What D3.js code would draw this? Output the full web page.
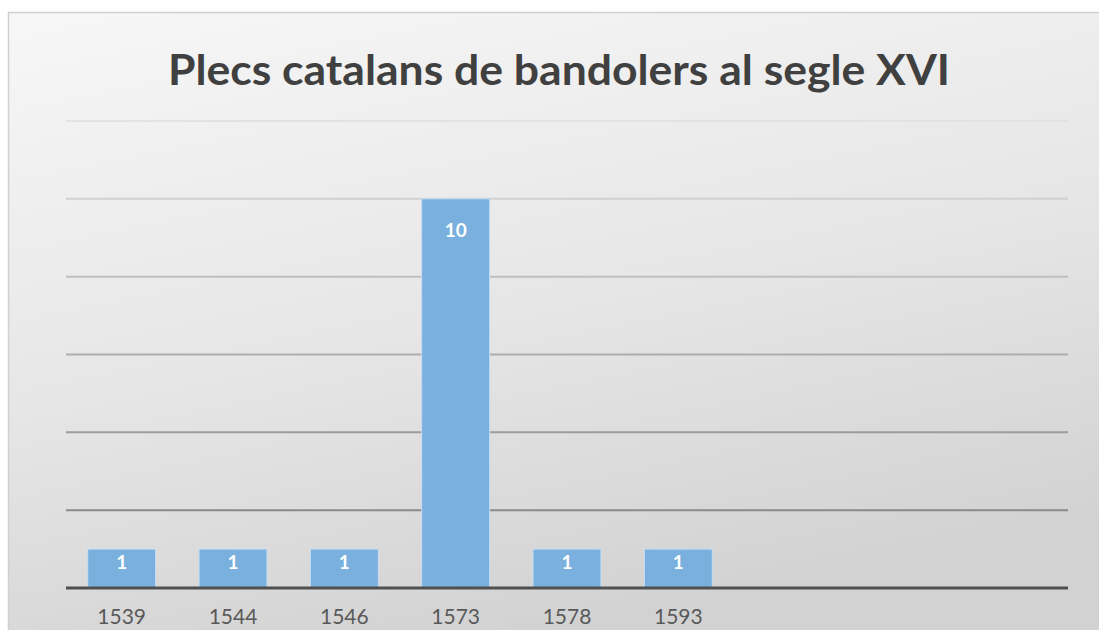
<!DOCTYPE html>
<html>
<head>
<meta charset="utf-8">
<script src="https://cdn.jsdelivr.net/npm/d3@7"></script>
<style>
  html, body { margin: 0; padding: 0; background: #ffffff; }
  svg { display: block; }
</style>
</head>
<body>
<svg width="1099" height="630"></svg>
<script>
// chart data
var title = "Plecs catalans de bandolers al segle XVI";
var years = ["1539", "1544", "1546", "1573", "1578", "1593", "", " ", "  "];
var counts = [1, 1, 1, 10, 1, 1, null, null, null];
var gridTicks = [2, 4, 6, 8, 10, 12];

var svg = d3.select("svg"),
    width = +svg.attr("width"),
    height = +svg.attr("height");

var margin = {left: 66, right: 31, top: 121, bottom: 42};
var plotBottom = 588;

// background gradient like the excel style
var defs = svg.append("defs");
var bg = defs.append("linearGradient")
    .attr("id", "bg")
    .attr("x1", 0).attr("y1", 0)
    .attr("x2", 0.35).attr("y2", 1);
bg.append("stop").attr("offset", "0%").attr("stop-color", "#f7f7f7");
bg.append("stop").attr("offset", "55%").attr("stop-color", "#e6e6e6");
bg.append("stop").attr("offset", "100%").attr("stop-color", "#d2d2d2");

svg.append("rect")
    .attr("x", 8.5).attr("y", 12.5)
    .attr("width", width + 20).attr("height", height + 20)
    .attr("fill", "url(#bg)")
    .attr("stroke", "#d0d0d0")
    .attr("stroke-width", 1.5);

var x = d3.scaleBand()
    .domain(years)
    .range([margin.left, width - margin.right])
    .paddingInner(0.39)
    .paddingOuter(0.195);

var y = d3.scaleLinear()
    .domain([0, 12])
    .range([plotBottom, margin.top]);

// gridlines get darker towards the bottom
var gridColor = d3.scaleLinear()
    .domain([2, 12])
    .range(["#8a8a8a", "#e2e2e2"]);

svg.append("g")
  .selectAll("line")
  .data(gridTicks)
  .join("line")
    .attr("x1", margin.left)
    .attr("x2", width - margin.right)
    .attr("y1", d => y(d))
    .attr("y2", d => y(d))
    .attr("stroke", d => gridColor(d))
    .attr("stroke-width", 2);

// bars
var barData = years.map((c, i) => ({cat: c, v: counts[i]})).filter(d => d.v != null);

svg.append("g")
  .selectAll("rect")
  .data(barData)
  .join("rect")
    .attr("x", d => x(d.cat))
    .attr("y", d => y(d.v))
    .attr("width", x.bandwidth())
    .attr("height", d => y(0) - y(d.v))
    .attr("fill", "#7ab0dd")
    .attr("stroke", "#c6ddf0")
    .attr("stroke-width", 1);

// value labels inside end
svg.append("g")
  .selectAll("text")
  .data(barData)
  .join("text")
    .attr("x", d => x(d.cat) + x.bandwidth() / 2)
    .attr("y", d => y(d.v) + Math.min(38, (y(0) - y(d.v)) - 19))
    .attr("text-anchor", "middle")
    .attr("font-family", "Lato, 'Open Sans', sans-serif")
    .attr("font-weight", "bold")
    .attr("font-size", 19)
    .attr("fill", "#ffffff")
    .text(d => d.v);

// baseline axis
svg.append("line")
    .attr("x1", margin.left)
    .attr("x2", width - margin.right)
    .attr("y1", y(0))
    .attr("y2", y(0))
    .attr("stroke", "#505050")
    .attr("stroke-width", 3);

// category labels
var xAxis = svg.append("g")
    .attr("transform", `translate(0,${y(0)})`)
    .call(d3.axisBottom(x).tickSize(0).tickPadding(0));
xAxis.select(".domain").remove();
xAxis.selectAll("text")
    .attr("dy", null)
    .attr("y", 36)
    .attr("font-family", "Lato, 'Open Sans', sans-serif")
    .attr("font-size", 21)
    .attr("fill", "#595959");

// title
svg.append("text")
    .attr("x", 559)
    .attr("y", 85)
    .attr("text-anchor", "middle")
    .attr("font-family", "Lato, 'Open Sans', sans-serif")
    .attr("font-weight", "bold")
    .attr("font-size", 42)
    .attr("fill", "#404040")
    .attr("textLength", 782)
    .attr("lengthAdjust", "spacingAndGlyphs")
    .text(title);
</script>
</body>
</html>
